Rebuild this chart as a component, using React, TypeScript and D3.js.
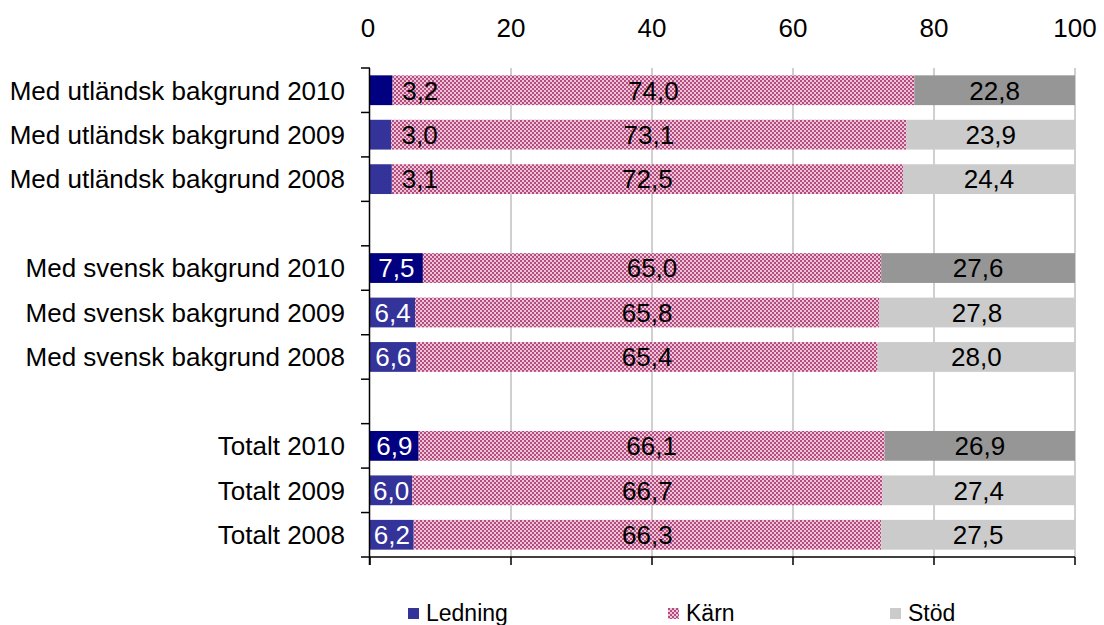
import React from "react";
import * as d3 from "d3";

const categories = [
  "Med utländsk bakgrund 2010",
  "Med utländsk bakgrund 2009",
  "Med utländsk bakgrund 2008",
  "",
  "Med svensk bakgrund 2010",
  "Med svensk bakgrund 2009",
  "Med svensk bakgrund 2008",
  " ",
  "Totalt 2010",
  "Totalt 2009",
  "Totalt 2008",
];
const ledning = [3.2, 3.0, 3.1, null, 7.5, 6.4, 6.6, null, 6.9, 6.0, 6.2];
const karn = [74.0, 73.1, 72.5, null, 65.0, 65.8, 65.4, null, 66.1, 66.7, 66.3];
const stod = [22.8, 23.9, 24.4, null, 27.6, 27.8, 28.0, null, 26.9, 27.4, 27.5];
const xTicks = [0, 20, 40, 60, 80, 100];
const seriesNames = ["Ledning", "Kärn", "Stöd"];

const W = 1104;
const H = 625;
const FONT = "'Liberation Sans', Arial, sans-serif";

export default function App() {
  const x = d3.scaleLinear().domain([0, 100]).range([370, 1075]);
  const y = d3
    .scaleBand<string>()
    .domain(categories)
    .range([68, 557])
    .paddingInner(0.33)
    .paddingOuter(0.165);
  const step = y.step();
  const bw = y.bandwidth();
  const top = 68;
  const bottom = 557;
  const fmt = (v: number) => v.toFixed(1).replace(".", ",");
  const is2010 = (c: string) => c.endsWith("2010");

  const boundaries = d3.range(categories.length + 1).map((i) => top + i * step);

  return (
    <svg
      width={W}
      height={H}
      style={{ position: "absolute", left: 0, top: 0, background: "#fff" }}
      fontFamily={FONT}
    >
      <defs>
        <pattern id="karnPat" width={4} height={4} patternUnits="userSpaceOnUse">
          <rect width={4} height={4} fill="#eec2d8" />
          <rect x={0} y={0} width={2} height={2} fill="#b24e7e" />
          <rect x={2} y={2} width={2} height={2} fill="#b24e7e" />
        </pattern>
      </defs>

      {/* gridlines */}
      {xTicks.slice(1).map((t) => (
        <line key={"g" + t} x1={x(t)} x2={x(t)} y1={top} y2={bottom} stroke="#a0a0a0" strokeWidth={1} />
      ))}

      {/* top tick labels */}
      {xTicks.map((t) => (
        <text key={"t" + t} x={x(t) - (t === 0 ? 2 : 0)} y={37} textAnchor="middle" fontSize={26} fill="#000">
          {t}
        </text>
      ))}

      {/* bars */}
      {categories.map((c, i) => {
        const l = ledning[i];
        const k = karn[i];
        const s = stod[i];
        if (l == null || k == null || s == null) return null;
        const yy = y(c)!;
        const cy = yy + bw / 2;
        const dark = is2010(c);
        const x0 = x(0);
        const x1 = x(l);
        const x2 = x(l + k);
        const x3 = x(100);
        return (
          <g key={"b" + i}>
            <rect x={x0} y={yy} width={x1 - x0} height={bw} fill={dark ? "#000080" : "#333399"} />
            <rect x={x1} y={yy} width={x2 - x1} height={bw} fill="url(#karnPat)" />
            <rect x={x2} y={yy} width={x3 - x2} height={bw} fill={dark ? "#969696" : "#cbcbcb"} />
            {l < 5 ? (
              <text x={(x0 + x1) / 2 + 39} y={cy} dy="0.36em" textAnchor="middle" fontSize={26} fill="#000">
                {fmt(l)}
              </text>
            ) : (
              <text x={(x0 + x1) / 2} y={cy} dy="0.36em" textAnchor="middle" fontSize={26} fill="#fff">
                {fmt(l)}
              </text>
            )}
            <text x={(x1 + x2) / 2} y={cy} dy="0.36em" textAnchor="middle" fontSize={26} fill="#000">
              {fmt(k)}
            </text>
            <text x={(x2 + x3) / 2} y={cy} dy="0.36em" textAnchor="middle" fontSize={26} fill="#000">
              {fmt(s)}
            </text>
          </g>
        );
      })}

      {/* category labels */}
      {categories.map((c, i) =>
        c.trim() ? (
          <text key={"c" + i} x={345} y={y(c)! + bw / 2} dy="0.36em" textAnchor="end" fontSize={26} fill="#000">
            {c}
          </text>
        ) : null
      )}

      {/* left axis */}
      <line x1={369.5} x2={369.5} y1={top} y2={bottom + 8} stroke="#000" strokeWidth={1.5} />
      {boundaries.map((b, i) => (
        <line key={"lt" + i} x1={361} x2={370} y1={b} y2={b} stroke="#000" strokeWidth={1.5} />
      ))}

      {/* bottom axis */}
      <line x1={x(0)} x2={x(100)} y1={bottom} y2={bottom} stroke="#000" strokeWidth={1.5} />
      {xTicks.map((t) => (
        <line key={"bt" + t} x1={x(t)} x2={x(t)} y1={bottom} y2={bottom + 8} stroke="#000" strokeWidth={1.5} />
      ))}

      {/* legend */}
      {seriesNames.map((n, i) => {
        const lx = [408, 668, 890][i];
        const fills = ["#333399", "url(#karnPat)", "#cbcbcb"];
        return (
          <g key={"lg" + i}>
            <rect x={lx} y={608} width={11} height={11} fill={fills[i]} />
            <text x={lx + 18} y={621} fontSize={23} fill="#000">
              {n}
            </text>
          </g>
        );
      })}
    </svg>
  );
}
